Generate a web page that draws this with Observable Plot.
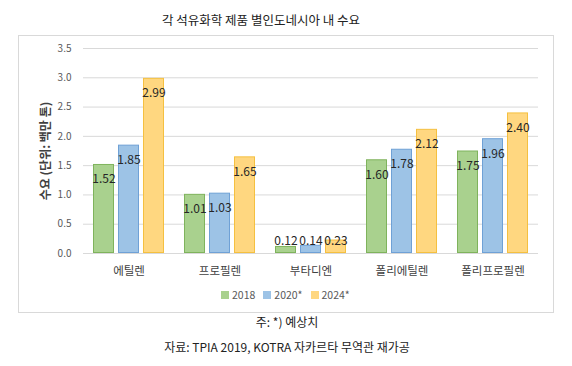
<!DOCTYPE html>
<html><head><meta charset="utf-8">
<script src="https://cdn.jsdelivr.net/npm/d3@7"></script>
<script src="https://cdn.jsdelivr.net/npm/@observablehq/plot@0.6"></script>
<style>
body{margin:0;background:#fff;font-family:"Noto Sans CJK KR","Noto Sans",sans-serif;}
#wrap{position:relative;width:572px;height:366px;overflow:hidden;}
#title{position:absolute;top:10px;left:0;width:522px;text-align:center;font-size:12.5px;color:#222;}
#box{position:absolute;left:18px;top:35px;width:534px;height:276px;border:1px solid #d9d9d9;}
#chart{position:absolute;left:0;top:0;}
#legend{position:absolute;top:287px;left:221px;font-size:10.5px;color:#595959;display:flex;gap:8px;}
#legend span.sw{display:inline-block;width:8px;height:8px;margin-right:3px;vertical-align:-0px;}
.note{position:absolute;left:0;width:574px;text-align:center;font-size:12px;color:#222;}
g[aria-label="y-axis label"] text{font-weight:bold;font-size:12px;fill:#404040;}
</style></head>
<body><div id="wrap">
<div id="title"></div>
<div id="box"></div>
<div id="chart"></div>
<div id="legend"></div>
<div class="note" id="n1" style="top:313px"></div>
<div class="note" id="n2" style="top:338px"></div>
</div>
<script>
const titleText = "각 석유화학 제품 별인도네시아 내 수요";
const categories = ["에틸렌", "프로필렌", "부타디엔", "폴리에틸렌", "폴리프로필렌"];
const series = ["2018", "2020*", "2024*"];
const v2018 = [1.52, 1.01, 0.12, 1.60, 1.75];
const v2020 = [1.85, 1.03, 0.14, 1.78, 1.96];
const v2024 = [2.99, 1.65, 0.23, 2.12, 2.40];
const yTicks = [0, 0.5, 1.0, 1.5, 2.0, 2.5, 3.0, 3.5];
const fills = ["#a9d18e", "#9dc3e6", "#ffd780"];
const strokes = ["#7fb35c", "#6fa1d6", "#f5c040"];
const yLabel = "수요 (단위: 백만 톤)";
const note1 = "주: *) 예상치";
const note2 = "자료: TPIA 2019, KOTRA 자카르타 무역관 재가공";

const vals = [v2018, v2020, v2024];
const data = [];
categories.forEach((c, i) => series.forEach((s, j) => data.push({cat: c, series: s, value: vals[j][i]})));

const big = data.filter(d => d.value >= 0.5);
const small = data.filter(d => d.value < 0.5);

const plot = Plot.plot({
  width: 572, height: 285,
  marginLeft: 82, marginRight: 34, marginTop: 48, marginBottom: 32,
  style: {fontFamily: '"Noto Sans CJK KR","Noto Sans",sans-serif', background: "transparent"},
  fx: {domain: categories, padding: 0, label: null},
  x: {domain: series, paddingInner: 0.18, paddingOuter: 0.37, axis: null},
  y: {domain: [0, 3.5]},
  color: {domain: series, range: fills},
  marks: [
    Plot.gridY(yTicks, {stroke: "#d9d9d9", strokeOpacity: 1}),
    Plot.axisY(yTicks, {tickFormat: d3.format(".1f"), tickSize: 0, tickPadding: 12, fontSize: 10, color: "#595959",
      label: yLabel, labelAnchor: "center", labelArrow: false, labelOffset: 42}),
    Plot.axisFx({anchor: "bottom", tickSize: 0, tickPadding: 13, fontSize: 11.5, color: "#404040", label: null}),
    Plot.barY(data, {fx: "cat", x: "series", y: "value", fill: "series",
      stroke: d => strokes[series.indexOf(d.series)], strokeWidth: 1, inset: 0.5}),
    Plot.text(big, {fx: "cat", x: "series", y: "value", text: d => d.value.toFixed(2), dy: 15, fontSize: 12, fill: "#262626"}),
    Plot.text(small, {fx: "cat", x: "series", y: 0, text: d => d.value.toFixed(2), dy: -12, fontSize: 12, fill: "#262626"}),
    Plot.ruleY([0], {stroke: "#d9d9d9"})
  ]
});
document.getElementById("chart").appendChild(plot);
document.getElementById("title").textContent = titleText;
document.getElementById("n1").textContent = note1;
document.getElementById("n2").textContent = note2;
const lg = document.getElementById("legend");
series.forEach((s, i) => {
  const item = document.createElement("div");
  item.innerHTML = `<span class="sw" style="background:${fills[i]}"></span>${s}`;
  lg.appendChild(item);
});
</script>
</body></html>
